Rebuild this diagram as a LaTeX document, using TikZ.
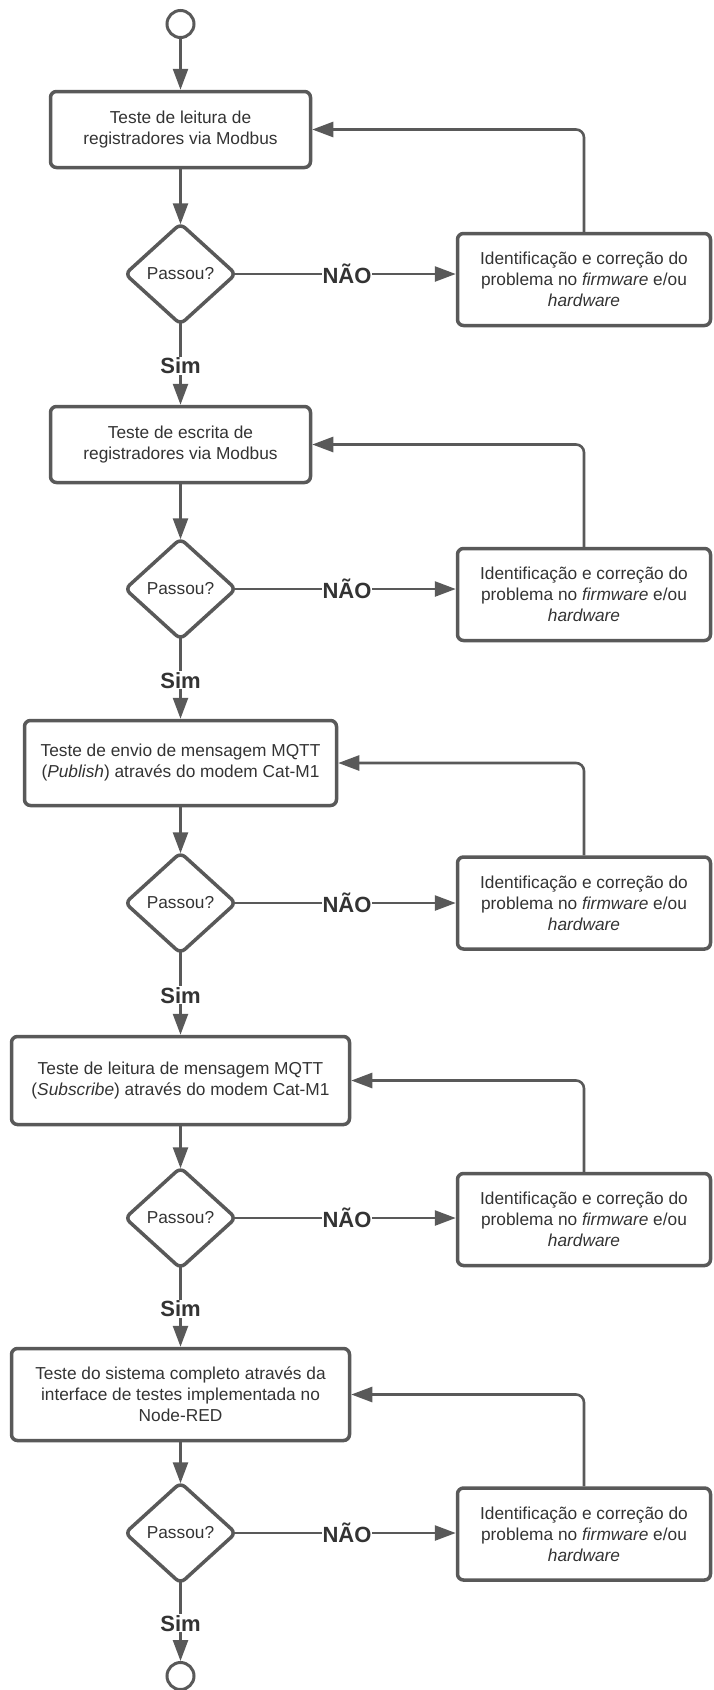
\documentclass[tikz,border=0pt]{standalone}
\usepackage{fontspec}
\setmainfont{Liberation Sans}
\usetikzlibrary{shapes.geometric,arrows.meta}
\definecolor{linegray}{HTML}{595959}
\definecolor{textgray}{HTML}{333333}
\begin{document}
\begin{tikzpicture}[x=1pt,y=-1pt,
  every node/.style={text=textgray},
  body/.style={font=\fontsize{17.3}{21}\selectfont},
  stepbox/.style={body,draw=linegray,line width=3.5pt,rounded corners=6pt,align=center,inner sep=2pt},
  fixbox/.style={stepbox,minimum width=253pt,minimum height=92pt},
  test/.style={body,draw=linegray,line width=3.5pt,diamond,rounded corners=6pt,
    minimum width=112pt,minimum height=102pt,inner sep=0pt},
  terminal/.style={circle,draw=linegray,line width=3pt,minimum size=27pt,inner sep=0pt},
  flow/.style={draw=linegray,line width=2.6pt,-{Triangle[length=21pt,width=15pt]}},
  back/.style={flow,rounded corners=8pt},
  % connectors leaving or reaching a rounded diamond tip
  fromtip/.style={shorten <=-4pt},
  totip/.style={shorten >=-3pt},
  lbl/.style={fill=white,font=\fontsize{22}{26}\selectfont\bfseries,inner sep=1pt}]
\useasboundingbox (0,0) rectangle (714,1690);

% start and end terminals
\node[terminal] (start) at (180.5,24) {};
\node[terminal] (stop) at (180.5,1676) {};

% test steps
\node[stepbox,minimum width=260pt,minimum height=76pt] (b1) at (180.5,129.5)
  {Teste de leitura de\\registradores via Modbus};
\node[stepbox,minimum width=260pt,minimum height=76pt] (b2) at (180.5,444.5)
  {Teste de escrita de\\registradores via Modbus};
\node[stepbox,minimum width=312pt,minimum height=85pt] (b3) at (180.5,763)
  {Teste de envio de mensagem MQTT\\(\textit{Publish}) através do modem Cat-M1};
\node[stepbox,minimum width=338pt,minimum height=88pt] (b4) at (180.5,1080.5)
  {Teste de leitura de mensagem MQTT\\(\textit{Subscribe}) através do modem Cat-M1};
\node[stepbox,minimum width=338pt,minimum height=92pt] (b5) at (180.5,1394.5)
  {Teste do sistema completo através da\\interface de testes implementada no\\Node-RED};

% decisions
\node[test] (d1) at (180.5,274) {Passou?};
\node[test] (d2) at (180.5,589) {Passou?};
\node[test] (d3) at (180.5,903) {Passou?};
\node[test] (d4) at (180.5,1218) {Passou?};
\node[test] (d5) at (180.5,1533) {Passou?};

% fix boxes
\node[fixbox] (r1) at (584,279.5)
  {Identificação e correção do\\problema no \textit{firmware} e/ou\\\textit{hardware}};
\node[fixbox] (r2) at (584,594.5)
  {Identificação e correção do\\problema no \textit{firmware} e/ou\\\textit{hardware}};
\node[fixbox] (r3) at (584,903)
  {Identificação e correção do\\problema no \textit{firmware} e/ou\\\textit{hardware}};
\node[fixbox] (r4) at (584,1219.5)
  {Identificação e correção do\\problema no \textit{firmware} e/ou\\\textit{hardware}};
\node[fixbox] (r5) at (584,1534)
  {Identificação e correção do\\problema no \textit{firmware} e/ou\\\textit{hardware}};

% main flow
\draw[flow] (start) -- (b1);
\foreach \i in {1,...,5} {
  \draw[flow,totip] (b\i.south) -- (d\i.north);
  \draw[flow,fromtip] (d\i.east) -- node[lbl] {NÃO} (d\i.east -| r\i.west);
  \draw[back] (r\i.north) |- (b\i.east);
}
\draw[flow,fromtip] (d1.south) -- node[lbl] {Sim} (b2.north);
\draw[flow,fromtip] (d2.south) -- node[lbl] {Sim} (b3.north);
\draw[flow,fromtip] (d3.south) -- node[lbl] {Sim} (b4.north);
\draw[flow,fromtip] (d4.south) -- node[lbl] {Sim} (b5.north);
\draw[flow,fromtip] (d5.south) -- node[lbl] {Sim} (stop.north);
\end{tikzpicture}
\end{document}
